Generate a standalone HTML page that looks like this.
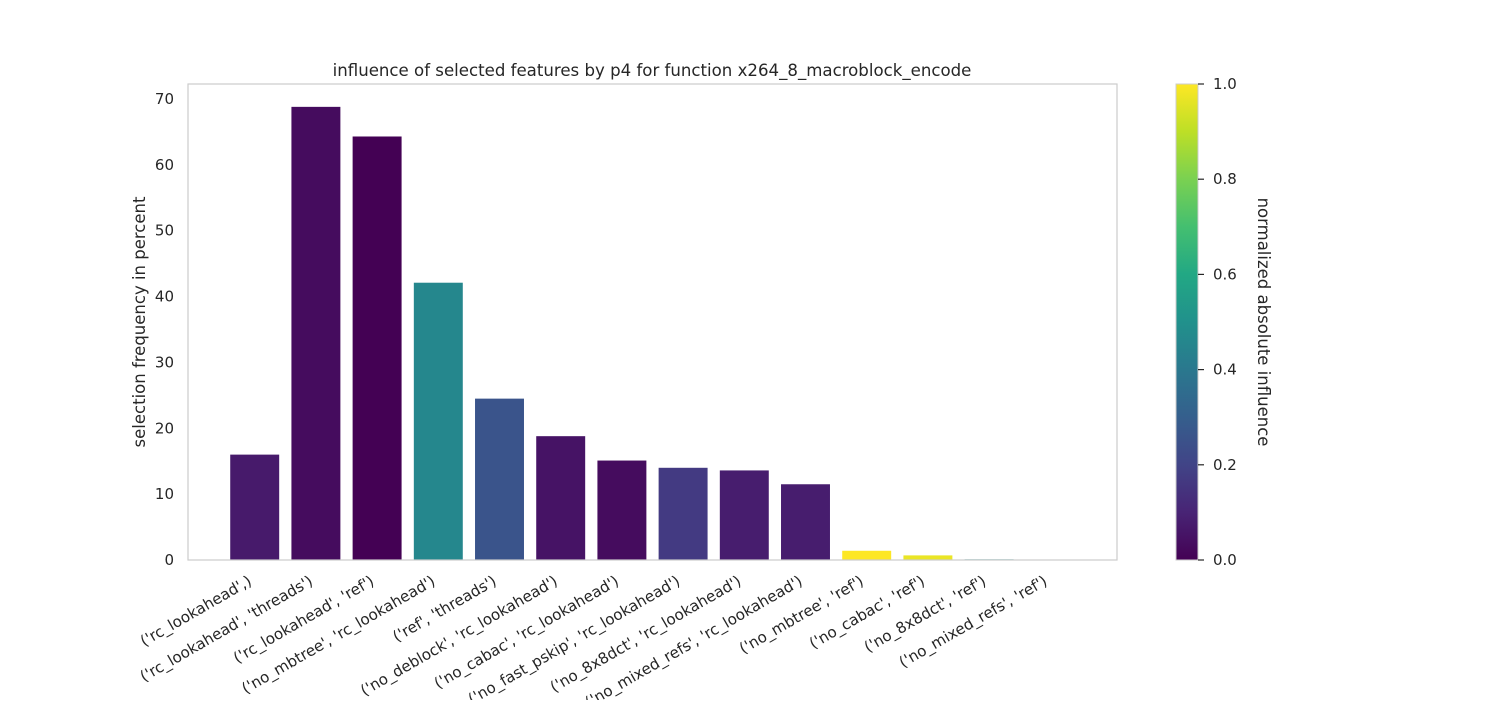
<!DOCTYPE html>
<html><head><meta charset="utf-8"><style>
body{margin:0;background:#fff;}
svg text{font-family:"DejaVu Sans","Liberation Sans",sans-serif;fill:#262626;}
</style></head><body>
<svg id="chart" width="1500" height="700" xmlns="http://www.w3.org/2000/svg">
<defs>
<linearGradient id="viridis" x1="0" y1="1" x2="0" y2="0">
<stop offset="0" stop-color="#440154"/><stop offset="0.1" stop-color="#482475"/><stop offset="0.2" stop-color="#414487"/><stop offset="0.3" stop-color="#355f8d"/><stop offset="0.4" stop-color="#2a788e"/><stop offset="0.5" stop-color="#21918c"/><stop offset="0.6" stop-color="#22a884"/><stop offset="0.7" stop-color="#44bf70"/><stop offset="0.8" stop-color="#7ad151"/><stop offset="0.9" stop-color="#bddf26"/><stop offset="1" stop-color="#fde725"/>
</linearGradient>
</defs>
<text x="652" y="76" font-size="16.6" text-anchor="middle">influence of selected features by p4 for function x264_8_macroblock_encode</text>
<g id="bars"></g>
<rect x="188" y="84" width="929" height="476" fill="none" stroke="#cccccc" stroke-width="1.2"/>
<g id="yticks"></g>
<g id="xticks"></g>
<text transform="translate(145,322) rotate(-90)" font-size="16.5" text-anchor="middle">selection frequency in percent</text>
<rect x="1176" y="84" width="22" height="476" fill="url(#viridis)" stroke="#cccccc"/>
<g id="cbticks"></g>
<text transform="translate(1258,322) rotate(90)" font-size="16.5" text-anchor="middle">normalized absolute influence</text>
</svg>
<script>
const categories=["('rc_lookahead',)","('rc_lookahead', 'threads')","('rc_lookahead', 'ref')","('no_mbtree', 'rc_lookahead')","('ref', 'threads')","('no_deblock', 'rc_lookahead')","('no_cabac', 'rc_lookahead')","('no_fast_pskip', 'rc_lookahead')","('no_8x8dct', 'rc_lookahead')","('no_mixed_refs', 'rc_lookahead')","('no_mbtree', 'ref')","('no_cabac', 'ref')","('no_8x8dct', 'ref')","('no_mixed_refs', 'ref')"];
const values=[16.0,68.8,64.3,42.1,24.5,18.8,15.1,14.0,13.6,11.5,1.4,0.7,0.1,0.05];
const influence=[0.07,0.03,0.0,0.46,0.26,0.05,0.03,0.17,0.08,0.08,1.0,0.97,0.5,0.5];
const yTicks=[0,10,20,30,40,50,60,70];
const cbTicks=[0,0.2,0.4,0.6,0.8,1.0];
const NS="http://www.w3.org/2000/svg";
const X0=188,X1=1117,Y0=560,Y1=84,xmin=-1.09,xmax=14.09,ymax=72.27;
const xs=v=>X0+(v-xmin)/(xmax-xmin)*(X1-X0);
const ys=v=>Y0-v/ymax*(Y0-Y1);
const stops=[[68,1,84],[72,36,117],[65,68,135],[53,95,141],[42,120,142],[33,145,140],[34,168,132],[68,191,112],[122,209,81],[189,223,38],[253,231,37]];
function vir(t){t=Math.max(0,Math.min(1,t));const p=t*10,i=Math.min(9,Math.floor(p)),f=p-i;const a=stops[i],b=stops[i+1];return`rgb(${a.map((c,k)=>Math.round(c+(b[k]-c)*f)).join(',')})`;}
function mk(tag,attrs,parent){const e=document.createElementNS(NS,tag);for(const k in attrs)e.setAttribute(k,attrs[k]);parent.appendChild(e);return e;}
const gb=document.getElementById('bars'),gx=document.getElementById('xticks'),gy=document.getElementById('yticks'),gc=document.getElementById('cbticks');
categories.forEach((c,i)=>{
  const bw=xs(0.4)-xs(-0.4);
  const r=mk('rect',{x:xs(i-0.4),y:ys(values[i]),width:bw,height:Y0-ys(values[i]),fill:vir(influence[i])},gb);
  
  
  const t=mk('text',{transform:`translate(${xs(i)-2},${Y0+24}) rotate(-30)`,'font-size':'15.2','text-anchor':'end'},gx);
  t.textContent=c;
  
  
});
yTicks.forEach(v=>{
  const t=mk('text',{x:X0-14,y:ys(v)+5,'font-size':'15','text-anchor':'end'},gy);
  t.textContent=v;
  
  
});
cbTicks.forEach(v=>{
  const y=560-v*476;
  const l=mk('line',{x1:1198,x2:1204,y1:y,y2:y,stroke:'#262626','stroke-width':1.2},gc);
  
  
  const t=mk('text',{x:1213,y:y+5,'font-size':'15'},gc);
  t.textContent=v.toFixed(1);
  
  
});
</script>
</body></html>
